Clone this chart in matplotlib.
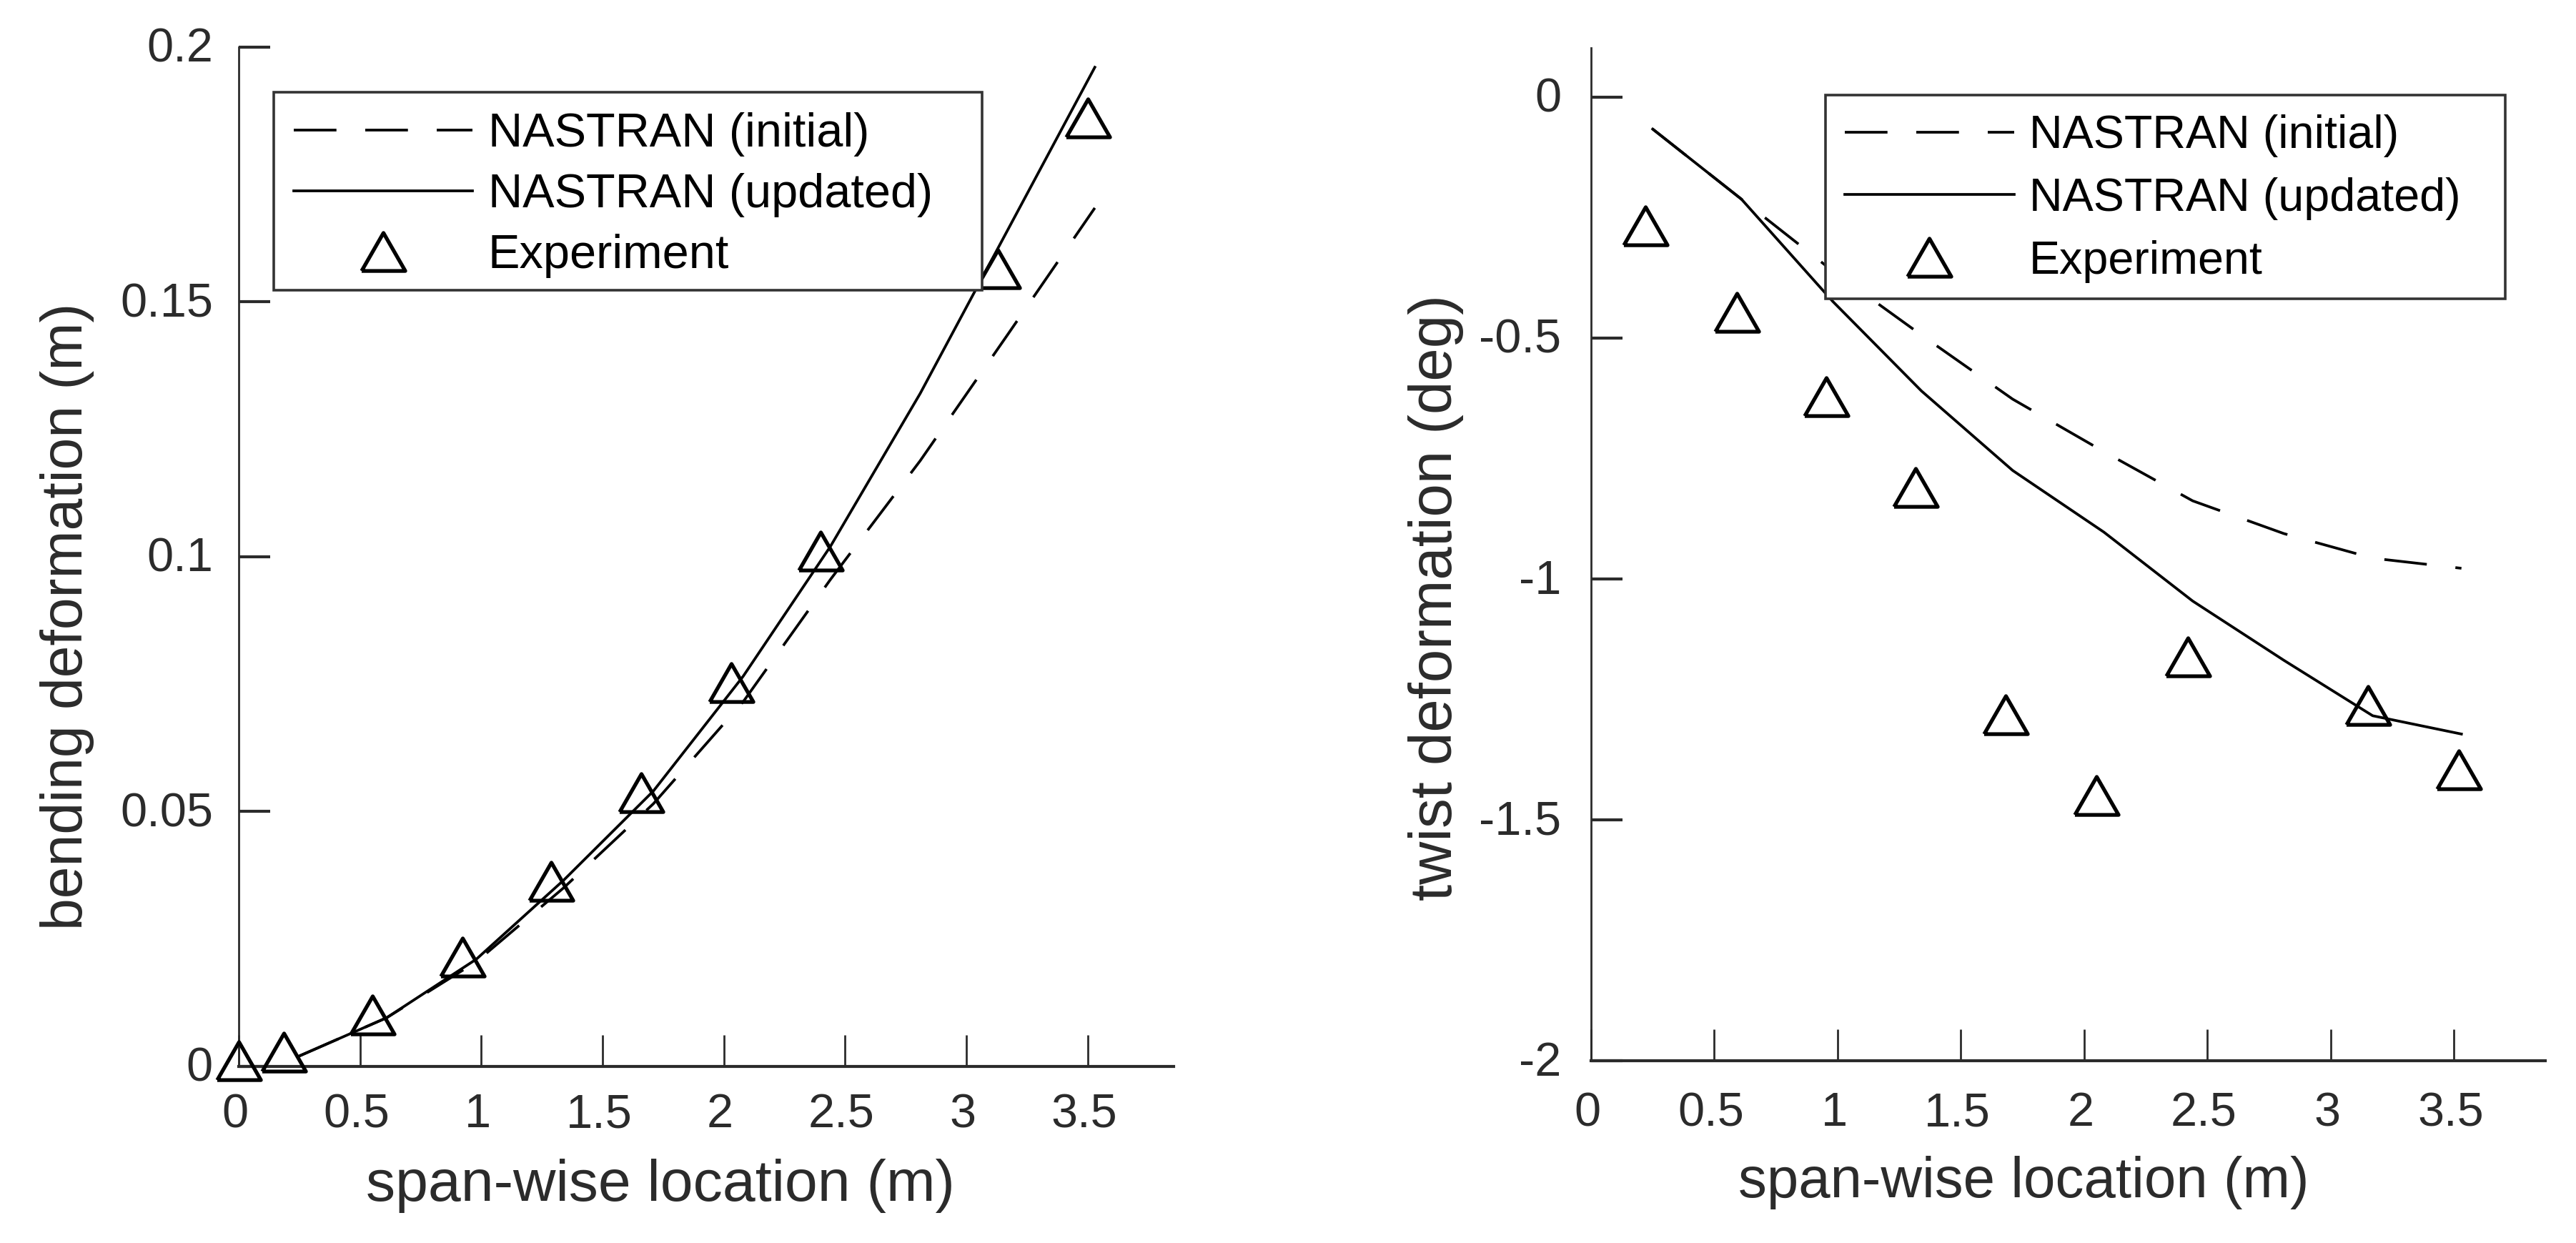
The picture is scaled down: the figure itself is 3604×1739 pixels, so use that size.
import matplotlib
matplotlib.use('Agg')
import matplotlib.pyplot as plt
from matplotlib.patches import Rectangle
from matplotlib.transforms import ScaledTranslation

plt.rcParams['font.family'] = ['Liberation Sans', 'DejaVu Sans']
plt.rcParams['lines.scale_dashes'] = False

# node positions of the NASTRAN curves
span_nodes = [0.25, 0.61, 0.98, 1.34, 1.71, 2.08, 2.44, 2.81, 3.17, 3.53]

bend_initial = [0.002, 0.0095, 0.0205, 0.035, 0.0515, 0.0715, 0.0955, 0.1188, 0.1435, 0.1684]
bend_updated = [0.002, 0.0095, 0.021, 0.0365, 0.054, 0.0765, 0.102, 0.132, 0.164, 0.196]
bend_exp_x = [0.0, 0.185, 0.55, 0.922, 1.288, 1.66, 2.03, 2.40, 3.13, 3.50]
bend_exp_y = [0.001, 0.0028, 0.0101, 0.0214, 0.0363, 0.0536, 0.0752, 0.101, 0.1565, 0.186]

twist_initial = [-0.0665, -0.212, -0.361, -0.494, -0.627, -0.736, -0.838, -0.906, -0.957, -0.978]
twist_updated = [-0.0665, -0.212, -0.424, -0.61, -0.775, -0.903, -1.046, -1.169, -1.284, -1.322]
twist_exp_x = [0.22, 0.59, 0.955, 1.316, 1.68, 2.05, 2.42, 3.15, 3.52]
twist_exp_y = [-0.267, -0.447, -0.622, -0.81, -1.282, -1.449, -1.162, -1.263, -1.396]

x_ticks = [0, 0.5, 1, 1.5, 2, 2.5, 3, 3.5]
x_labels = ['0', '0.5', '1', '1.5', '2', '2.5', '3', '3.5']
bend_ticks = [0, 0.05, 0.1, 0.15, 0.2]
bend_labels = ['0', '0.05', '0.1', '0.15', '0.2']
twist_ticks = [-2, -1.5, -1, -0.5, 0]
twist_labels = ['-2', '-1.5', '-1', '-0.5', '0']

legend_names = ['NASTRAN (initial)', 'NASTRAN (updated)', 'Experiment']

W, H = 3604, 1739
DARK = '#2b2b2b'
TRIANGLE = [(-1, -0.87), (1, -0.87), (0, 0.87), (-1, -0.87)]


def box(x0, y0, x1, y1):
    """pixel box (y from the top) to figure fractions"""
    return [x0 / W, 1 - y1 / H, (x1 - x0) / W, (y1 - y0) / H]


def draw_panel(fig, pos, xlim, ylim, yticks, ylabels, initial, updated, exp_x, exp_y,
               legend_pos, legend_size, legend_gap, handle_len, xpad, ypad):
    ax = fig.add_axes(box(*pos))
    ax.plot(span_nodes, initial, color='black', lw=2.7, ls=(0, (43, 29)), label=legend_names[0])
    ax.plot(span_nodes, updated, color='black', lw=2.7, label=legend_names[1])
    ax.plot(exp_x, exp_y, ls='none', marker=TRIANGLE, ms=44, mfc='none', mec='black', mew=3.8,
            clip_on=False, label=legend_names[2], zorder=3)
    ax.set_xlim(*xlim)
    ax.set_ylim(*ylim)
    for side in ['top', 'right']:
        ax.spines[side].set_visible(False)
    ax.spines['left'].set_linewidth(2)
    ax.spines['bottom'].set_linewidth(3)
    ax.spines['left'].set_color(DARK)
    ax.spines['bottom'].set_color(DARK)
    ax.set_xticks(x_ticks, x_labels)
    ax.set_yticks(yticks, ylabels)
    ax.tick_params(axis='x', direction='in', length=32, width=2, color=DARK, labelcolor=DARK,
                   labelsize=48, pad=xpad)
    ax.tick_params(axis='y', direction='in', length=32, width=3, color=DARK, labelcolor=DARK,
                   labelsize=48, pad=ypad)
    # tick labels sit a little off their ticks in the original
    for label in ax.get_xticklabels():
        label.set_transform(label.get_transform() + ScaledTranslation(-0.05, 0, fig.dpi_scale_trans))
    for label in ax.get_yticklabels():
        label.set_transform(label.get_transform() + ScaledTranslation(0, 0.03, fig.dpi_scale_trans))

    x0, y0, x1, y1 = box(*legend_pos)
    frame = Rectangle((x0, y0), x1, y1, transform=fig.transFigure, facecolor='white',
                      edgecolor='#333333', lw=2.6, clip_on=False, zorder=4)
    ax.add_patch(frame)
    leg = ax.legend(loc='upper left', bbox_to_anchor=(x0, y0 + y1), bbox_transform=fig.transFigure,
                    fontsize=legend_size, handlelength=handle_len, handletextpad=0.33, borderpad=0.42,
                    borderaxespad=0, labelspacing=legend_gap, frameon=False)
    leg.set_zorder(5)
    return ax


fig = plt.figure(figsize=(W / 100, H / 100), dpi=100)

draw_panel(fig, (334, 65.6, 1642, 1491.6), (0, 3.855), (0, 0.2), bend_ticks, bend_labels,
           bend_initial, bend_updated, bend_exp_x, bend_exp_y, (383, 129, 1374, 406),
           48, 0.345, 3.75, 27, 26)
draw_panel(fig, (2226, 67, 3561, 1484), (0, 3.87), (-2, 0.102), twist_ticks, twist_labels,
           twist_initial, twist_updated, twist_exp_x, twist_exp_y, (2554, 133, 3505, 418),
           46.5, 0.433, 3.66, 31, 30)

fig.text(924 / W, 1 - 1659 / H, 'span-wise location (m)', fontsize=59.3, color=DARK, ha='center', va='center')
fig.text(2831 / W, 1 - 1654 / H, 'span-wise location (m)', fontsize=57.5, color=DARK, ha='center', va='center')
fig.text(94 / W, 1 - 862 / H, 'bending deformation (m)', fontsize=58, color=DARK, rotation=90, ha='center', va='center')
fig.text(2009 / W, 1 - 836 / H, 'twist deformation (deg)', fontsize=60, color=DARK, rotation=90, ha='center', va='center')

fig.savefig('out.png', dpi=100)
